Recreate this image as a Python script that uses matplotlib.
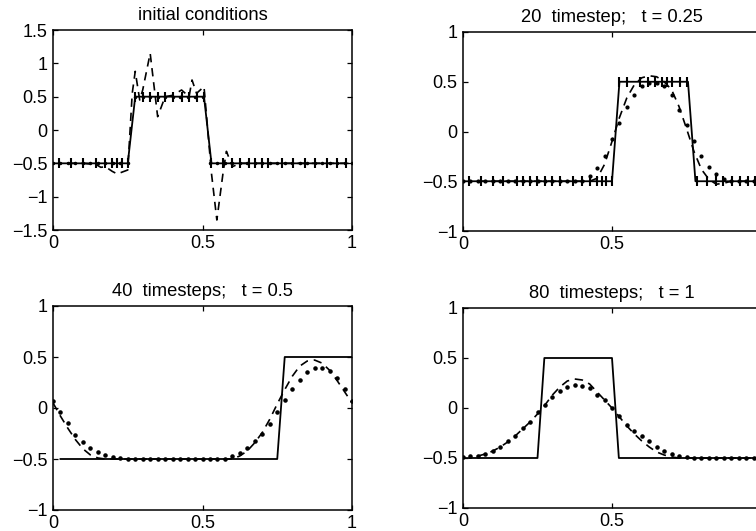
import numpy as np
import matplotlib
matplotlib.use("Agg")
import matplotlib.pyplot as plt

plt.rcParams['font.family'] = ['Liberation Sans', 'DejaVu Sans']

# ---------------- data ----------------
grid_x = np.linspace(0.0, 1.0, 41)

titles = ["initial conditions", "20  timestep;   t = 0.25",
          "40  timesteps;   t = 0.5", "80  timesteps;   t = 1"]

# panel 1: initial conditions
tl_exact_x = [0.02, 0.25, 0.275, 0.505, 0.53, 0.98]
tl_exact_y = [-0.5, -0.5, 0.5, 0.5, -0.5, -0.5]
tl_mesh_x = [0.02, 0.06, 0.10, 0.145, 0.175, 0.198, 0.215, 0.232, 0.25,
             0.275, 0.30, 0.325, 0.35, 0.375, 0.40, 0.43, 0.455, 0.48, 0.505,
             0.53, 0.57, 0.60, 0.625, 0.655, 0.676, 0.698, 0.72, 0.765, 0.804,
             0.843, 0.876, 0.915, 0.95, 0.98]
tl_mesh_y = [-0.5, -0.5, -0.5, -0.5, -0.5, -0.5, -0.5, -0.5, -0.5,
             0.5, 0.5, 0.5, 0.5, 0.5, 0.5, 0.5, 0.5, 0.5, 0.5,
             -0.5, -0.5, -0.5, -0.5, -0.5, -0.5, -0.5, -0.5, -0.5, -0.5,
             -0.5, -0.5, -0.5, -0.5, -0.5]
tl_dash_x = [0.0, 0.10, 0.145, 0.16, 0.175, 0.198, 0.215, 0.232, 0.25, 0.265,
             0.275, 0.29, 0.30, 0.325, 0.35, 0.375, 0.40, 0.43, 0.455, 0.465,
             0.48, 0.505, 0.53, 0.548, 0.57, 0.58, 0.60, 0.625, 0.655, 1.0]
tl_dash_y = [-0.5, -0.5, -0.52, -0.56, -0.55, -0.62, -0.66, -0.63, -0.6, 0.55,
             0.88, 0.45, 0.6, 1.15, 0.2, 0.5, 0.52, 0.6, 0.5, 0.75,
             0.55, 0.65, -0.65, -1.35, -0.6, -0.32, -0.55, -0.5, -0.5, -0.5]
tl_dot_y = [-0.5] * 11 + [0.5] * 10 + [-0.5] * 20

# panel 2: 20 timesteps, t = 0.25
tr_exact_x = [0.021, 0.5, 0.525, 0.755, 0.78, 1.0]
tr_exact_y = [-0.5, -0.5, 0.5, 0.5, -0.5, -0.5]
tr_mesh_x = [0.02, 0.06, 0.10, 0.135, 0.18, 0.20, 0.225, 0.247, 0.275, 0.30,
             0.325, 0.37, 0.40, 0.425, 0.45, 0.465, 0.48, 0.50,
             0.525, 0.55, 0.594, 0.622, 0.644, 0.667, 0.683, 0.70, 0.728, 0.753,
             0.784, 0.818, 0.85, 0.873, 0.902, 0.93, 0.957, 0.98]
tr_mesh_y = [-0.5] * 18 + [0.5] * 10 + [-0.5] * 8
tr_dot_y = [-0.5] * 17 + [-0.45, -0.37, -0.25, -0.08, 0.09, 0.25, 0.37, 0.46,
                          0.49, 0.49, 0.46, 0.37, 0.22, 0.07, -0.10, -0.25,
                          -0.36, -0.43, -0.48] + [-0.5] * 5
tr_dash_y = [-0.5] * 18 + [-0.47, -0.33, -0.10, 0.14, 0.34, 0.47, 0.54, 0.56,
                          0.55, 0.50, 0.42, 0.25, 0.03, -0.20, -0.38, -0.48,
                          -0.53, -0.52] + [-0.5] * 5

# panel 3: 40 timesteps, t = 0.5
bl_exact_x = [0.025, 0.75, 0.775, 1.0]
bl_exact_y = [-0.5, -0.5, 0.5, 0.5]
bl_dot_y = [0.07, -0.04, -0.15, -0.26, -0.33, -0.39, -0.43, -0.46, -0.48, -0.49] \
    + [-0.5] * 14 + [-0.47, -0.44, -0.39, -0.32, -0.25, -0.16, -0.04, 0.08, 0.19,
                     0.27, 0.35, 0.39, 0.39, 0.36, 0.29, 0.19, 0.07]
bl_dash_y = [0.05, -0.08, -0.20, -0.31, -0.40, -0.46, -0.49] + [-0.5] * 18 \
    + [-0.47, -0.42, -0.34, -0.24, -0.11, 0.04, 0.18, 0.31, 0.41, 0.46, 0.47,
       0.44, 0.37, 0.27, 0.16, 0.05]

# panel 4: 80 timesteps, t = 1
br_exact_x = [0.023, 0.25, 0.273, 0.50, 0.523, 1.0]
br_exact_y = [-0.5, -0.5, 0.5, 0.5, -0.5, -0.5]
br_dot_y = [-0.49, -0.48, -0.48, -0.46, -0.43, -0.39, -0.33, -0.28, -0.20, -0.14,
            -0.04, 0.03, 0.11, 0.17, 0.21, 0.23, 0.225, 0.20, 0.13, 0.08, 0.0,
            -0.08, -0.17, -0.23, -0.28, -0.33, -0.39, -0.43, -0.455, -0.48,
            -0.49] + [-0.5] * 10
br_dash_y = [-0.5, -0.5, -0.48, -0.46, -0.43, -0.39, -0.34, -0.28, -0.21, -0.14,
             -0.06, 0.03, 0.13, 0.21, 0.27, 0.29, 0.28, 0.24, 0.16, 0.08, 0.0,
             -0.09, -0.18, -0.26, -0.33, -0.39, -0.44, -0.47, -0.49] + [-0.5] * 12

yticks_top_left = [-1.5, -1, -0.5, 0, 0.5, 1, 1.5]
yticks_other = [-1, -0.5, 0, 0.5, 1]
xticks = [0, 0.5, 1]
# the right-hand column is cropped at the picture edge: its "1" label is not shown
xticklabels_left = ["0", "0.5", "1"]
xticklabels_right = ["0", "0.5", ""]

# ---------------- figure ----------------
W, H = 756, 531
fig = plt.figure(figsize=(W / 100, H / 100), dpi=100)


def px_axes(x0, y0, x1, y1):
    return fig.add_axes([x0 / W, 1 - y1 / H, (x1 - x0) / W, (y1 - y0) / H])


ax1 = px_axes(53, 30, 352, 230)
ax2 = px_axes(463, 32, 761, 231)
ax3 = px_axes(53, 306, 352, 510)
ax4 = px_axes(463, 308, 761, 508)

lw_solid = 1.3
lw_dash = 1.2
dash = (0, (5, 3.5))


def fmt(v):
    s = ('%g' % v)
    return s.replace('-', '\u2212')


def style(ax, title, yt, ylim, xlabels):
    ax.set_xlim(0, 1)
    ax.set_ylim(*ylim)
    ax.set_xticks(xticks)
    ax.set_xticklabels(xlabels)
    ax.set_yticks(yt)
    ax.set_yticklabels([fmt(v) for v in yt])
    ax.tick_params(direction='in', top=True, right=True, length=3.5, width=0.9,
                   labelsize=13, color='black')
    ax.tick_params(axis='y', pad=4)
    ax.tick_params(axis='x', pad=3.5)
    for s in ax.spines.values():
        s.set_linewidth(1.1)
    ax.set_title(title, fontsize=13.2, pad=7)


# panel 1
ax1.plot(tl_exact_x, tl_exact_y, color='black', lw=lw_solid)
ax1.plot(grid_x, tl_dot_y, color='black', lw=0, marker='.', ms=3)
ax1.plot(tl_mesh_x, tl_mesh_y, color='black', ls='none', marker='|', ms=7, mew=1.5)
ax1.plot(tl_dash_x, tl_dash_y, color='black', lw=lw_dash, ls=dash)
style(ax1, titles[0], yticks_top_left, (-1.5, 1.5), xticklabels_left)

# panel 2
ax2.plot(tr_exact_x, tr_exact_y, color='black', lw=lw_solid)
ax2.plot(grid_x, tr_dot_y, color='black', lw=0, marker='.', ms=4)
ax2.plot(tr_mesh_x, tr_mesh_y, color='black', ls='none', marker='|', ms=7, mew=1.5)
ax2.plot(grid_x, tr_dash_y, color='black', lw=lw_dash, ls=dash)
style(ax2, titles[1], yticks_other, (-1, 1), xticklabels_right)

# panel 3
ax3.plot(bl_exact_x, bl_exact_y, color='black', lw=lw_solid)
ax3.plot(grid_x, bl_dot_y, color='black', lw=0, marker='.', ms=4.5)
ax3.plot(grid_x, bl_dash_y, color='black', lw=lw_dash, ls=dash)
style(ax3, titles[2], yticks_other, (-1, 1), xticklabels_left)

# panel 4
ax4.plot(br_exact_x, br_exact_y, color='black', lw=lw_solid)
ax4.plot(grid_x, br_dot_y, color='black', lw=0, marker='.', ms=4.5)
ax4.plot(grid_x, br_dash_y, color='black', lw=lw_dash, ls=dash)
style(ax4, titles[3], yticks_other, (-1, 1), xticklabels_right)

fig.savefig('out.png', dpi=100)
